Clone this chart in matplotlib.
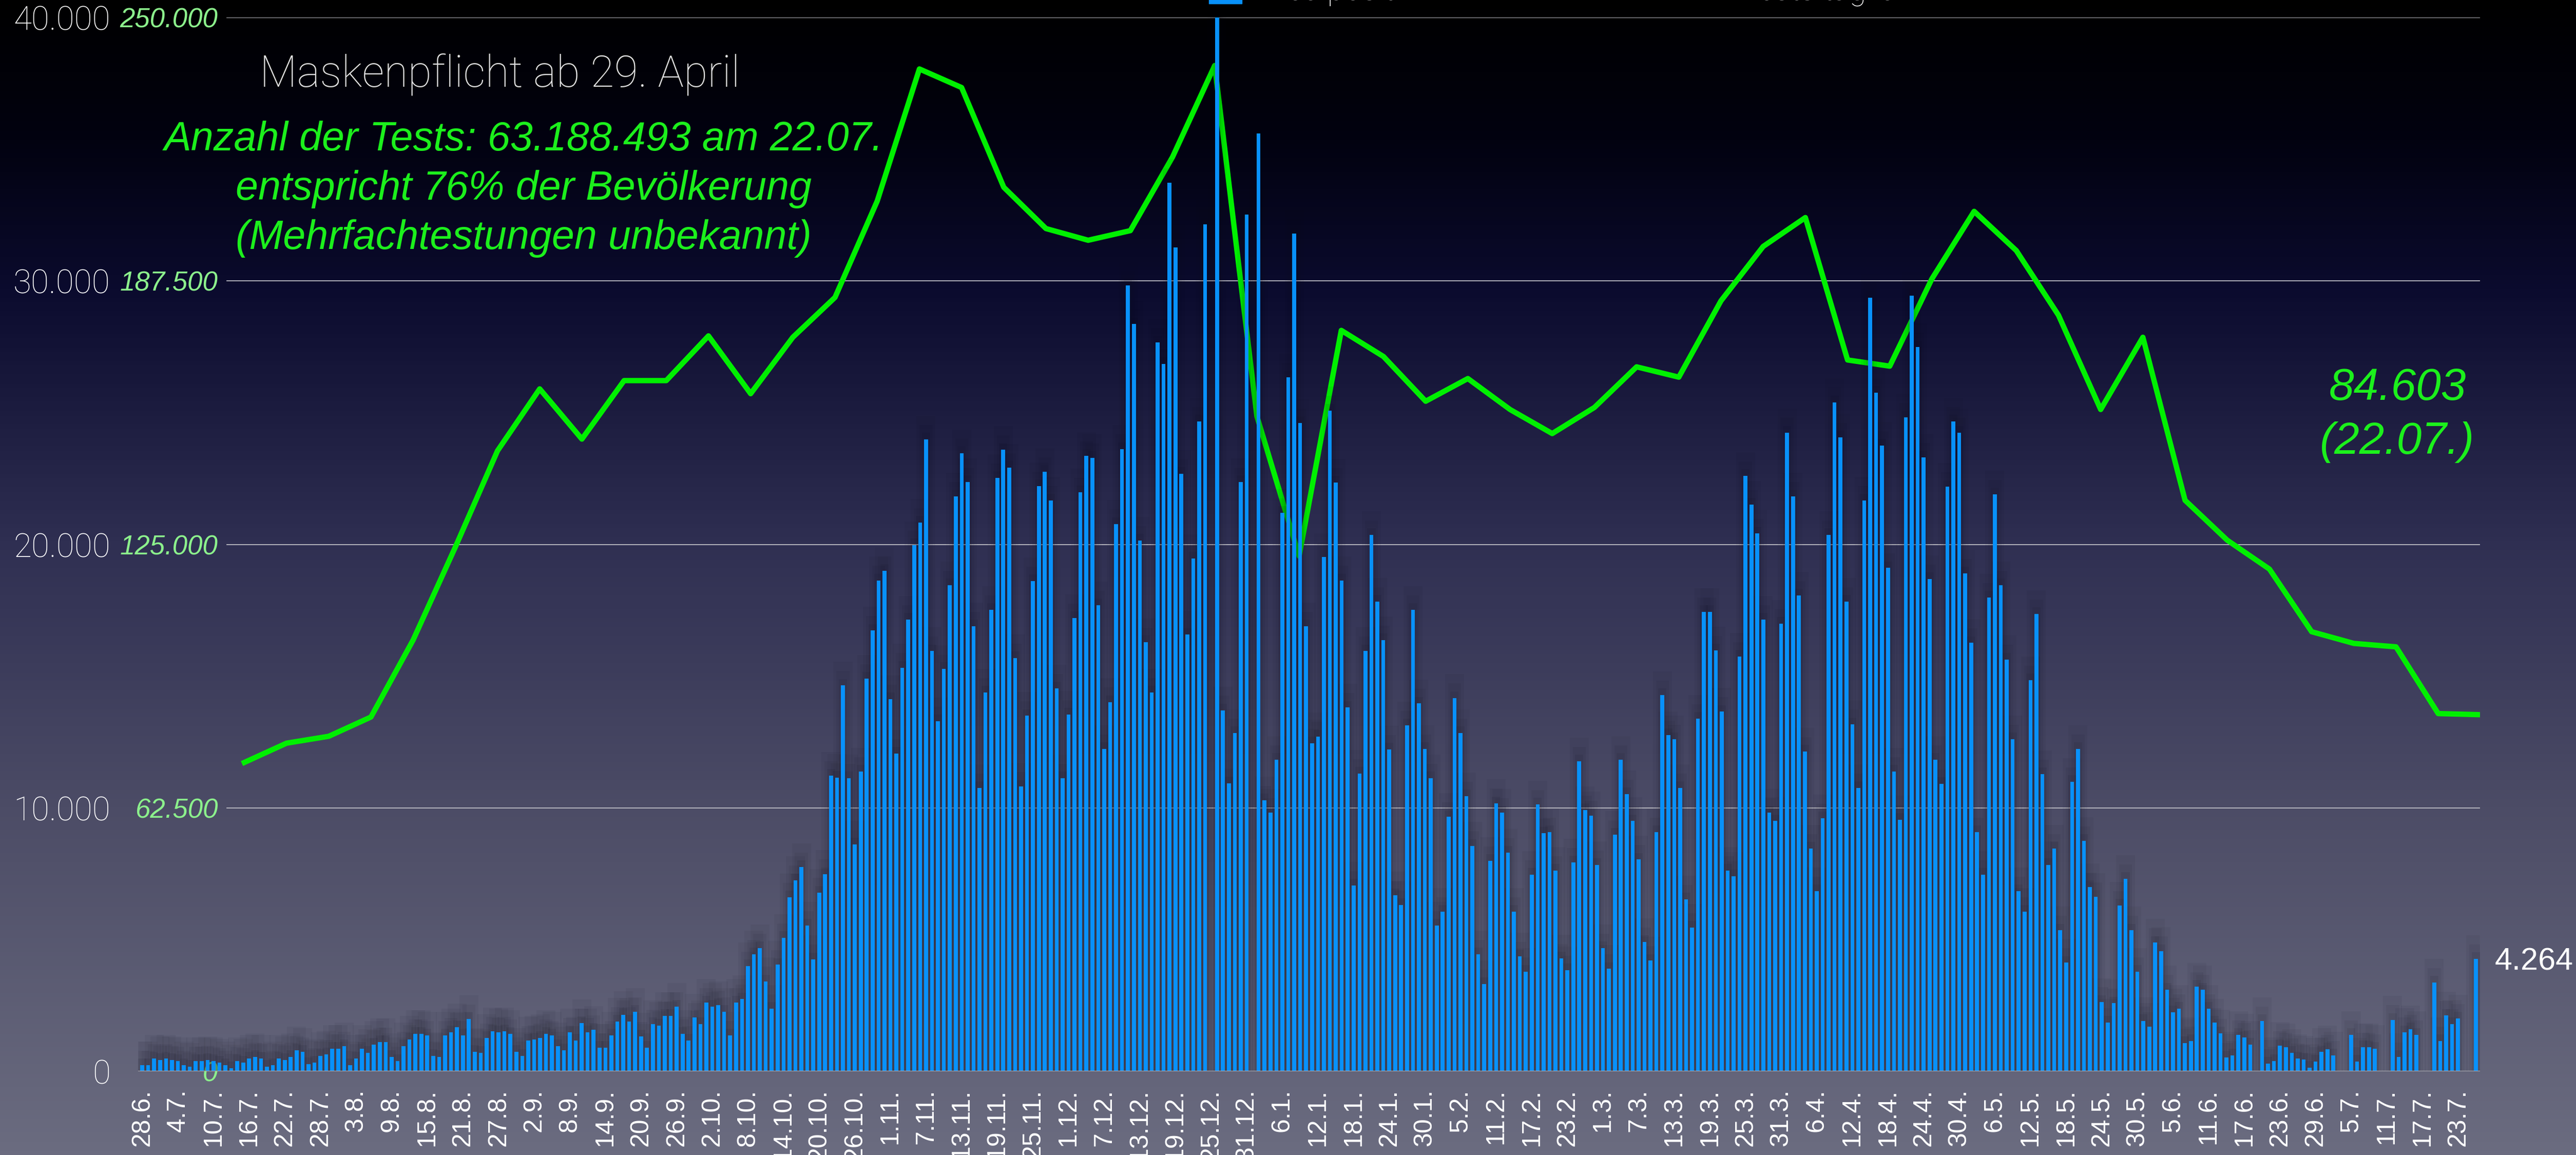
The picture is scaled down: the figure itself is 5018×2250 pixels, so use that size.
import numpy as np
import matplotlib
matplotlib.use('Agg')
import matplotlib.pyplot as plt
from matplotlib.colors import LinearSegmentedColormap
from matplotlib.patches import Rectangle

# daily new positive cases, one value per day starting 28.6.2020
cases = [
    228, 228, 481, 423, 481, 423, 384, 228, 169, 384,
    384, 423, 384, 325, 228, 111, 384, 325, 481, 540,
    481, 169, 228, 481, 423, 540, 793, 735, 267, 325,
    579, 637, 852, 852, 949, 228, 481, 852, 696, 1008,
    1105, 1105, 540, 384, 949, 1203, 1417, 1417, 1359, 579,
    540, 1359, 1476, 1671, 1359, 1983, 735, 696, 1261, 1515,
    1476, 1515, 1417, 735, 579, 1164, 1203, 1261, 1417, 1359,
    949, 793, 1476, 1164, 1827, 1476, 1573, 891, 891, 1359,
    1885, 2139, 1885, 2256, 1320, 891, 1788, 1729, 2100, 2100,
    2451, 1417, 1164, 2041, 1788, 2607, 2451, 2509, 2256, 1359,
    2607, 2740, 3993, 4437, 4672, 3419, 2375, 4045, 5063, 6603,
    7256, 7752, 5533, 4254, 6786, 7491, 11223, 11145, 14642, 11119,
    8613, 11380, 14903, 16730, 18635, 19001, 14120, 12058, 15321, 17148,
    19967, 20828, 23986, 15948, 13285, 15269, 18453, 21820, 23464, 22368,
    16887, 10753, 14381, 17513, 22524, 23594, 22916, 15686, 10805, 13494,
    18609, 22211, 22759, 21663, 14538, 11119, 13546, 17200, 21976, 23360,
    23281, 17696, 12241, 14016, 20776, 23621, 29832, 28371, 20149, 16286,
    14381, 27666, 26857, 33721, 31268, 22681, 16574, 19471, 24665, 32156,
    0, 40000, 13703, 10936, 12841, 22368, 32521, 0, 35600, 10283,
    9814, 11823, 21193, 26335, 31790, 24612, 16887, 12450, 12711, 19523,
    25082, 22342, 18635, 13807, 7047, 11301, 15948, 20358, 17826, 16365,
    12215, 6682, 6316, 13128, 17513, 13963, 12241, 11119, 5533, 6055,
    9657, 14172, 12841, 10440, 8561, 4437, 3315, 7987, 10179, 9814,
    8300, 6055, 4359, 3785, 7465, 10127, 9031, 9083, 7621, 4280,
    3837, 7934, 11771, 9918, 9709, 7830, 4672, 3889, 8978, 11823,
    10518, 9500, 8039, 4907, 4202, 9083, 14277, 12763, 12606, 10753,
    6525, 5455, 13389, 17435, 17435, 15973, 13650, 7621, 7412, 15738,
    22603, 21506, 20410, 17148, 9814, 9500, 16991, 24247, 21820, 18061,
    12137, 8457, 6838, 9605, 20358, 25395, 24064, 17826, 13180, 10753,
    21663, 29363, 25761, 23751, 19105, 11380, 9553, 24821, 29441, 27483,
    23307, 18688, 11823, 10910, 22185, 24665, 24247, 18896, 16260, 9083,
    7465, 17983, 21898, 18453, 15634, 12606, 6838, 6055, 14851, 17357,
    11275, 7830, 8457, 5351, 4124, 10988, 12241, 8744, 6995, 6629,
    2636, 1853, 2584, 6290, 7308, 5351, 3785, 1905, 1697, 4881,
    4568, 3106, 2245, 2375, 1070, 1148, 3210, 3106, 2375, 1853,
    1436, 522, 600, 1383, 1279, 1018, 0, 1905, 287, 392,
    966, 914, 705, 496, 444, 130, 365, 731, 835, 600,
    0, 0, 1383, 365, 914, 914, 861, 0, 0, 1958,
    548, 1488, 1592, 1383, 0, 0, 3367, 1148, 2114, 1801,
    2010, 0, 0, 4264,
]

# tests per day (weekly values), first point mid July 2020
tests = [
    73277, 77846, 79478, 84048, 102326, 124358, 147206, 161894, 149981, 163853,
    163853, 174461, 160752, 174135, 183600, 206448, 237782, 233376, 209712, 199920,
    197146, 199430, 216893, 238598, 155366, 122237, 175766, 169565, 158957, 164342,
    156998, 151286, 157488, 167117, 164669, 182784, 195677, 202531, 168749, 167280,
    188006, 204000, 194698, 179357, 156998, 174135, 135456, 125990, 119136, 104285,
    101510, 100694, 84864, 84603,
]

tick_labels = [
    '28.6.', '4.7.', '10.7.', '16.7.', '22.7.', '28.7.', '3.8.', '9.8.', '15.8.', '21.8.',
    '27.8.', '2.9.', '8.9.', '14.9.', '20.9.', '26.9.', '2.10.', '8.10.', '14.10.', '20.10.',
    '26.10.', '1.11.', '7.11.', '13.11.', '19.11.', '25.11.', '1.12.', '7.12.', '13.12.', '19.12.',
    '25.12.', '31.12.', '6.1.', '12.1.', '18.1.', '24.1.', '30.1.', '5.2.', '11.2.', '17.2.',
    '23.2.', '1.3.', '7.3.', '13.3.', '19.3.', '25.3.', '31.3.', '6.4.', '12.4.', '18.4.',
    '24.4.', '30.4.', '6.5.', '12.5.', '18.5.', '24.5.', '30.5.', '5.6.', '11.6.', '17.6.',
    '23.6.', '29.6.', '5.7.', '11.7.', '17.7.', '23.7.',
]
case_ticks = [0, 10000, 20000, 30000, 40000]
case_tick_labels = ['0', '10.000', '20.000', '30.000', '40.000']
test_ticks = [0, 62500, 125000, 187500, 250000]
test_tick_labels = ['0', '62.500', '125.000', '187.500', '250.000']

days = np.arange(len(cases))
tick_days = np.arange(len(tick_labels)) * 6
test_days = 17.2 + 7.105 * np.arange(len(tests))

plt.rcParams['font.family'] = ['Roboto', 'DejaVu Sans']
HELV = ['Liberation Sans', 'DejaVu Sans']
GREEN = '#1cf01c'

W, H = 5018, 2250
fig = plt.figure(figsize=(W / 100, H / 100), dpi=100)

def fx(px):
    return px / W

def fy(py):
    return 1 - py / H

# background gradient
bg = fig.add_axes([0, 0, 1, 1])
bg.set_zorder(-10)
cmap = LinearSegmentedColormap.from_list('bg', [
    (0.0, '#000000'), (0.12, '#020210'), (0.25, '#0b0b2e'),
    (0.47, '#2f2f52'), (0.7, '#4c4c66'), (1.0, '#6b6c80')])
bg.imshow(np.linspace(0, 1, 512).reshape(-1, 1), aspect='auto', cmap=cmap)
bg.axis('off')

left, right, top, bottom = 269, 4831, 34, 2087
rect = [fx(left), fy(bottom), (right - left) / W, (bottom - top) / H]
ax = fig.add_axes(rect)
ax2 = ax.twinx()
ax.set_zorder(ax2.get_zorder() + 1)
ax.patch.set_visible(False)

ax.set_xlim(-0.7, 393.7)
ax.set_ylim(0, 40000)
ax2.set_ylim(0, 250000)

for v in test_ticks[1:]:
    ax2.axhline(v, xmin=0.038, xmax=1, color='#bdbdc5', lw=1.3, zorder=1)
ax2.plot(test_days, tests, color='#00f000', lw=7.5, zorder=3, solid_joinstyle='round')

# soft dark shadow behind the bars
vals = np.array(cases, dtype=float)
mask = vals > 0
for w, extra, al in [(3.2, 900, 0.05), (2.2, 550, 0.06), (1.4, 250, 0.08)]:
    ax.bar(days[mask], vals[mask] + extra, width=w, color='#0a0a18', alpha=al,
           linewidth=0, zorder=2)
ax.bar(days, cases, width=0.66, color='#0891fb', zorder=3, linewidth=0)
ax.axhline(0, color='#a5a5ad', lw=2.5, zorder=4)

for a in (ax, ax2):
    for s in a.spines.values():
        s.set_visible(False)

ax.set_yticks(case_ticks, labels=case_tick_labels)
ax.tick_params(axis='y', length=0, pad=39, labelsize=46, labelcolor='white')
for lab in ax.get_yticklabels():
    lab.set_fontweight('light')
ax.set_xticks(tick_days, labels=tick_labels, rotation=90)
ax.tick_params(axis='x', length=0, pad=25, labelsize=36, labelcolor='white')
for lab in ax.get_xticklabels():
    lab.set_family(HELV)

ax2.yaxis.tick_left()
ax2.set_yticks(test_ticks, labels=test_tick_labels)
ax2.tick_params(axis='y', length=0, pad=-112, labelsize=38, labelcolor='#8cf08c')
for lab in ax2.get_yticklabels():
    lab.set_family(HELV)
    lab.set_fontstyle('italic')

# annotations
fig.text(fx(974), fy(168), 'Maskenpflicht ab 29. April', color='#e4e4e4',
         fontsize=61, ha='center', va='baseline', fontweight='light')
green_lines = ['Anzahl der Tests: 63.188.493 am 22.07.',
               'entspricht 76% der Bevölkerung',
               '(Mehrfachtestungen unbekannt)']
for txt, base in zip(green_lines, [293, 389, 485]):
    fig.text(fx(1020), fy(base), txt, color=GREEN, fontsize=57, ha='center',
             va='baseline', style='italic', family=HELV)

fig.text(fx(4670), fy(779), '84.603', color=GREEN, fontsize=63, ha='center',
         va='baseline', style='italic', family=HELV)
fig.text(fx(4670), fy(884), '(22.07.)', color=GREEN, fontsize=63, ha='center',
         va='baseline', style='italic', family=HELV)
fig.text(fx(4860), fy(1890), '4.264', color='white', fontsize=44, ha='left',
         va='baseline', family=HELV)

# legend, cut off by the top edge as in the original
fig.patches.append(Rectangle((fx(2355), fy(7)), 64 / W, 40 / H, color='#0891fb',
                             transform=fig.transFigure, figure=fig))
fig.text(fx(2463), 1.0, 'Neu positiv Anz.', color='white', fontsize=44,
         ha='left', va='baseline', fontweight='light')
fig.text(fx(3388), 1.0, 'Tests täglich', color='white', fontsize=44,
         ha='left', va='baseline', fontweight='light')

fig.savefig('out.png', dpi=100)
